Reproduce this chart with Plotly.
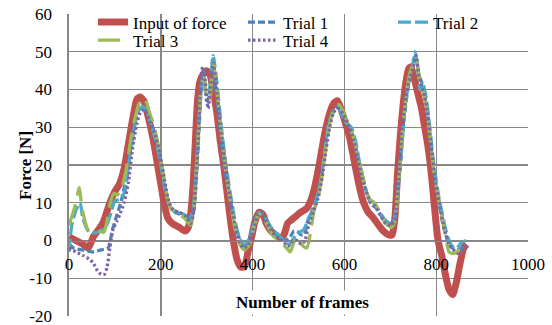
import plotly.graph_objects as go

# ---------------- data ----------------
input_x = [0, 15, 30, 42, 53, 65, 75, 89, 100, 110, 120, 130, 140, 148, 155, 163, 170, 178, 186, 193,
           200, 207, 215, 225, 240, 253, 260, 266, 271, 276, 280, 285, 292, 300, 307, 315, 322, 330, 337, 344,
           350, 358, 366, 374, 382, 390, 398, 405, 414, 422, 430, 440, 450, 463, 470, 476, 485, 495, 505, 518,
           528, 535, 545, 555, 562, 570, 578, 585, 592, 600, 610, 620, 628, 635, 642, 652, 663, 675, 685, 697,
           704, 710, 716, 722, 728, 734, 740, 745, 752, 760, 768, 775, 782, 790, 797, 804, 812, 820, 828, 836,
           844, 852, 860, 866]
input_y = [1, 0, -1, -2, 1, 3, 5, 10, 13, 15, 19, 26, 33, 37.5, 38, 37, 34, 30, 25, 20,
           15, 10, 6, 4.5, 3.5, 2.5, 3.5, 8, 16, 28, 37, 42, 44, 45, 44, 39, 34, 26, 20, 13,
           7, 0, -5, -7, -7, -3, 1, 5, 7.5, 7, 4.5, 2.5, 1.5, 0.5, 2, 4.5, 5.5, 6.5, 7.5, 8.5,
           11, 14, 20, 27, 31, 34.5, 36.5, 37, 35, 32, 28, 22, 17, 13, 10, 7.5, 6, 4, 2.5, 1.5,
           1.5, 6, 18, 28, 36, 42, 45.5, 46, 43, 39, 35, 30, 25, 17, 8, 0, -4, -9, -13, -14.3,
           -11, -6, -2, -1]

trial1_x = [0, 10, 30, 50, 70, 85, 95, 105, 115, 125, 135, 145, 155, 165, 175, 185, 195, 205, 215, 225,
            240, 255, 265, 272, 280, 288, 293, 300, 305, 313, 320, 330, 340, 350, 360, 370, 380, 392, 402, 412,
            420, 430, 445, 460, 472, 482, 490, 497, 505, 512, 520, 530, 540, 548, 556, 564, 572, 580, 590, 598,
            605, 612, 620, 630, 640, 650, 660, 670, 680, 692, 703, 710, 716, 722, 730, 738, 745, 750, 755, 762,
            768, 775, 780, 786, 795, 805, 815, 825, 835, 845, 855, 865]
trial1_y = [-1, -2, -2.5, -3, -2.5, -2, 3, 7, 11, 17, 25, 32, 35.5, 35, 32, 29, 24, 17, 11, 8,
            7, 6.5, 5, 8, 22, 40, 45, 37, 38, 48, 40, 28, 18, 12, 5, 1, -1.5, 0, 4, 7,
            7.5, 5, 2, 1, 0, 1, 2.5, 2.5, 1.5, 1.5, 5, 8, 11, 15, 22, 30, 33, 35, 35.5, 32,
            31, 30, 27, 22, 17, 12, 9.5, 8.5, 6.5, 5, 4.5, 6, 12, 20, 32, 40, 44, 47, 49, 44,
            42, 38, 35, 28, 18, 11, 4, 0, -2, -2.5, -2, -1]

trial2_x = [0, 6, 15, 24, 30, 42, 52, 65, 80, 92, 100, 111, 122, 130, 140, 150, 160, 170, 180, 190,
            200, 210, 220, 235, 250, 262, 270, 278, 286, 292, 298, 305, 314, 322, 332, 342, 352, 362, 372, 382,
            394, 404, 414, 422, 432, 446, 460, 470, 480, 492, 500, 512, 522, 532, 542, 550, 558, 566, 575, 585,
            595, 605, 615, 625, 635, 645, 655, 665, 675, 688, 700, 708, 716, 724, 732, 740, 748, 754, 760, 764,
            770, 778, 786, 795, 805, 815, 825, 835, 845, 855, 865]
trial2_y = [-3, 4, 8, 10, 6, 2.5, 2, 2.3, 3.5, 7.5, 10.5, 11, 13, 20, 28, 34, 35.5, 34, 30, 26,
            20, 13, 9, 7.5, 7, 5, 8, 20, 38, 44, 40, 40, 49, 42, 30, 20, 12, 5, 0.5, -1,
            0.5, 5, 7.5, 7, 5, 2.5, 1, -0.5, -1, 1, 2, 3, 6, 8, 12, 17, 24, 31, 34, 35.5,
            33, 31, 30, 26, 19, 14, 11, 10, 8, 5.5, 4.5, 5.5, 13, 24, 35, 42, 46, 50, 46, 40,
            42, 38, 30, 20, 12, 6, 1, -1.5, -2, -0.5, 0]

trial3_x = [0, 8, 15, 22, 28, 35, 42, 55, 65, 76, 84, 90, 98, 105, 115, 125, 135, 145, 155, 165,
            175, 185, 195, 205, 215, 225, 240, 255, 265, 272, 280, 288, 294, 300, 306, 314, 322, 332, 342, 352,
            362, 372, 382, 394, 404, 414, 422, 432, 446, 458, 466, 474, 482, 492, 500, 510, 518, 526, 534, 544,
            552, 560, 568, 578, 588, 598, 608, 618, 628, 638, 648, 658, 668, 678, 690, 703, 710, 718, 726, 734,
            742, 750, 756, 762, 770, 778, 786, 795, 805, 815, 822, 828, 838, 850, 865]
trial3_y = [4, 7, 10, 14, 9, 5, 2.8, 3, 2.5, 2.2, 6, 10, 12.5, 12, 14, 19, 27, 33, 37, 37.5,
            34, 30.5, 25, 18, 11, 8, 7, 5.5, 4, 8, 24, 40, 43, 38, 37, 47, 40, 28, 18, 10,
            3, -1, -2.5, -1, 4, 7, 7, 4, 1, 0, -1, -2, -3, 0, 0.5, -1.5, -2, 2, 8, 12,
            18, 25, 31, 35, 36, 34, 31, 28, 23, 18, 13, 10.5, 9.5, 7, 4.5, 3.5, 5, 15, 28, 38,
            44, 47, 48, 44, 40, 36, 28, 18, 11, 5, 0, -3, -3.5, -2.5, -1.5]

trial4_x = [0, 15, 31, 45, 53, 62, 70, 77, 83, 89, 96, 104, 111, 120, 129, 138, 148, 158, 168, 178,
            188, 198, 208, 218, 228, 240, 254, 265, 272, 280, 286, 291, 297, 303, 308, 314, 320, 330, 340, 350,
            360, 370, 380, 392, 402, 412, 420, 430, 444, 458, 468, 478, 488, 498, 506, 514, 522, 532, 542, 552,
            560, 568, 577, 587, 597, 607, 617, 627, 637, 647, 657, 667, 677, 690, 703, 710, 718, 726, 734, 742,
            750, 756, 762, 768, 775, 782, 790, 798, 808, 818, 828, 838, 848, 858, 865]
trial4_y = [-2, -3, -4, -5, -6, -8, -9, -9, -7, -2, 3, 5, 7, 10, 15, 24, 31, 34.5, 34, 31,
            28, 23, 16, 10, 8, 7.5, 6.5, 4.5, 8, 23, 38, 46, 42, 35, 40, 47, 42, 30, 20, 12,
            5, 0, -2, -1, 3, 7, 7.5, 5, 2, 0.5, -0.5, -1.5, 0, 0, -1, 0, 4, 7.5, 11, 17,
            24, 30, 34, 35, 33.5, 31, 28, 23, 17, 13, 10, 9, 7, 4.5, 4, 6, 16, 30, 38, 43,
            46, 49, 44, 41, 38, 33, 24, 16, 9, 3, -1, -2.5, -3.5, -2.5, -2]

x_ticks = [0, 200, 400, 600, 800, 1000]
y_ticks = [-20, -10, 0, 10, 20, 30, 40, 50, 60]

# ---------------- styling ----------------
FONT = "Liberation Serif, Times New Roman, Times, serif"
GRID = "#878787"
series = [
    ("Input of force", input_x, input_y, "#C0504D", 7, "solid", "legend"),
    ("Trial 1", trial1_x, trial1_y, "#4F81BD", 3.3, "7px,3px", "legend2"),
    ("Trial 2", trial2_x, trial2_y, "#4BACC6", 3.3, "13px,4px", "legend3"),
    ("Trial 3", trial3_x, trial3_y, "#9BBB59", 3.3, "22px,9px", "legend4"),
    ("Trial 4", trial4_x, trial4_y, "#8064A2", 3.3, "2.5px,2.5px", "legend5"),
]

fig = go.Figure()
for name, xs, ys, color, w, dash, leg in series:
    fig.add_trace(go.Scatter(
        x=xs, y=ys, name=name, mode="lines", hoverinfo="skip",
        line=dict(color=color, width=w, dash=dash, shape="spline", smoothing=0.6),
        legend=leg,
    ))

W, H = 552, 325
ML, MR, MT, MB = 69, 24, 14, 9
pw = W - ML - MR
ph = H - MT - MB


def px_to_paper_x(px):
    return (px - ML) / pw


def px_to_paper_y(py):
    return (H - MB - py) / ph


legend_common = dict(
    orientation="h", xanchor="left", yanchor="top",
    bgcolor="rgba(0,0,0,0)", borderwidth=0,
    font=dict(family=FONT, size=17, color="#000"),
)
legend_pos = {
    "legend": (93, 22),
    "legend2": (243, 22),
    "legend3": (393, 22),
    "legend4": (93, 40),
    "legend5": (243, 40),
}
legend_layout = {}
for key, (lx, ly) in legend_pos.items():
    legend_layout[key] = dict(legend_common, x=px_to_paper_x(lx), y=px_to_paper_y(ly - 17.5))

ymin, ymax = y_ticks[0], y_ticks[-1]

fig.update_layout(
    width=W, height=H,
    margin=dict(l=ML, r=MR, t=MT, b=MB, autoexpand=False),
    paper_bgcolor="white", plot_bgcolor="white",
    font=dict(family=FONT, size=17, color="#000"),
    showlegend=True,
    hovermode=False,
    **legend_layout,
    xaxis=dict(
        range=[x_ticks[0], x_ticks[-1]], tickvals=x_ticks, ticktext=[str(v) for v in x_ticks],
        showgrid=True, gridcolor=GRID, gridwidth=1.4,
        zeroline=False, showline=True, linecolor=GRID, linewidth=1.4,
        anchor="free", position=(0 - ymin) / (ymax - ymin),
        ticks="outside", ticklen=8, tickcolor="rgba(0,0,0,0)",
        ticklabeloverflow="allow",
        tickfont=dict(family=FONT, size=17, color="#000"),
    ),
    yaxis=dict(
        range=[ymin, ymax], tickvals=y_ticks, ticktext=[str(v) for v in y_ticks],
        showgrid=True, gridcolor=GRID, gridwidth=1.4,
        zeroline=False, showline=True, linecolor=GRID, linewidth=1.6,
        ticks="outside", ticklen=12, tickcolor="rgba(0,0,0,0)",
        ticklabeloverflow="allow",
        tickfont=dict(family=FONT, size=17, color="#000"),
    ),
    shapes=[dict(
        type="rect", layer="between", xref="paper", yref="paper",
        x0=px_to_paper_x(87), x1=1.03, y0=px_to_paper_y(50.5), y1=1.03,
        fillcolor="white", line=dict(width=0),
    )],
    annotations=[
        dict(text="<b>Number of frames</b>", xref="paper", yref="paper",
             x=px_to_paper_x(302), y=px_to_paper_y(302), showarrow=False,
             xanchor="center", yanchor="middle", bgcolor="white", borderpad=2,
             font=dict(family=FONT, size=17, color="#000")),
        dict(text="<b>Force [N]</b>", xref="paper", yref="paper",
             x=px_to_paper_x(25), y=px_to_paper_y(166), showarrow=False,
             xanchor="center", yanchor="middle", textangle=-90,
             font=dict(family=FONT, size=17, color="#000")),
    ],
)

# remove the browser's default 8px body margin so the figure starts at the page corner
fig.write_html(
    "out.html",
    config={"displayModeBar": False, "staticPlot": True},
    post_script="document.body.style.margin='0';",
)
